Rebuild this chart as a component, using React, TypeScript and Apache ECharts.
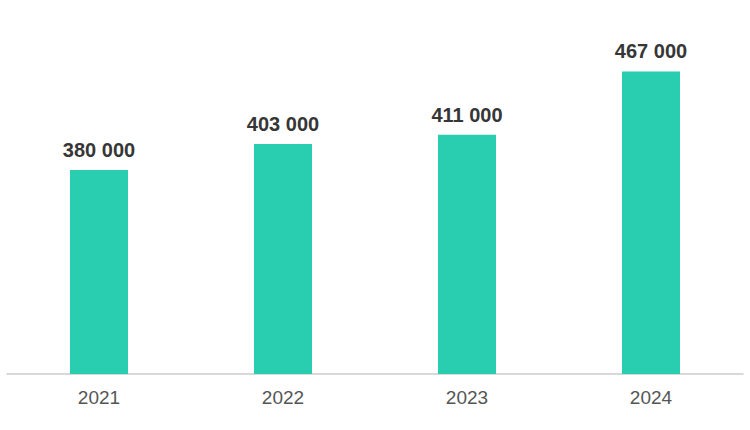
import React, { useEffect, useRef } from "react";
import * as echarts from "echarts";

const categories = ["2021", "2022", "2023", "2024"];
const values = [380000, 403000, 411000, 467000];

const fmt = (v: number) => String(v).replace(/\B(?=(\d{3})+(?!\d))/g, " ");

export default function App() {
  const ref = useRef<HTMLDivElement>(null);
  useEffect(() => {
    if (!ref.current) return;
    const chart = echarts.init(ref.current, undefined, { renderer: "svg" });
    chart.setOption({
      animation: false,
      grid: { left: 7, right: 7, top: 34, bottom: 56 },
      xAxis: {
        type: "category",
        data: categories,
        axisLine: { lineStyle: { color: "#cccccc", width: 1.5 } },
        axisTick: { show: false },
        axisLabel: {
          color: "#555555",
          fontSize: 19,
          fontFamily: "Liberation Sans, Arial, sans-serif",
          margin: 14,
        },
      },
      yAxis: {
        type: "value",
        min: 200000,
        max: 500000,
        show: false,
        splitLine: { show: false },
      },
      series: [
        {
          type: "bar",
          data: values,
          barWidth: 58,
          itemStyle: { color: "#29CDB0" },
          label: {
            show: true,
            position: "top",
            distance: 10,
            color: "#363636",
            fontSize: 20,
            fontWeight: "bold",
            fontFamily: "Liberation Sans, Arial, sans-serif",
            formatter: (p: any) => fmt(p.value),
          },
        },
      ],
    });
    return () => chart.dispose();
  }, []);
  return <div ref={ref} style={{ width: 750, height: 430, position: "absolute", left: 0, top: 0 }} />;
}
